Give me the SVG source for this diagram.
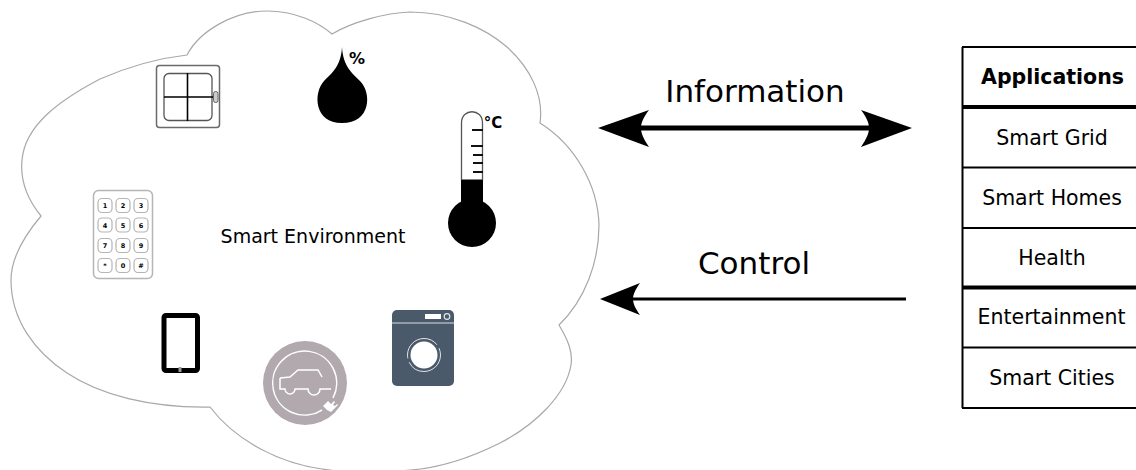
<svg xmlns="http://www.w3.org/2000/svg" width="1136" height="470" viewBox="0 0 1136 470">
<style>
text{font-family:"DejaVu Sans",Verdana,sans-serif;fill:#000;text-anchor:middle}
.lbl{font-size:31px}
.cell{font-size:20.500px}
.key{fill:#fff;stroke:#b5b5b5;stroke-width:1.2}
.kt{font-size:6.5px;font-weight:bold}
.row{stroke:#000;stroke-width:2}
.thick{stroke:#000;stroke-width:4}
.tick{stroke:#111;stroke-width:1.8}
.wl{fill:none;stroke:#fff;stroke-width:1.5}
</style>
<rect width="1136" height="470" fill="#fff"/>
<g id="cloud">
<path d="M187 55C200 30 235 11 267 11C295 11 318 22 332 34C352 22 385 13 410 12C450 12 485 28 507 47C530 68 544 95 540 123C575 145 598 185 599 225C599 262 585 300 559 325C568 340 573 352 571 365C566 395 535 425 500 443C470 458 440 468 410 470C385 473 345 473 330 470C280 465 235 440 210 407C150 408 100 395 67 373C35 352 11 320 11 280C11 258 25 235 41 216C28 200 20 180 22 160C25 125 60 100 100 79C130 66 160 58 187 55Z" fill="#fff" stroke="#a8a8a8" stroke-width="1.2"/>
<text x="313" y="243" style="font-size:19px">Smart Environment</text>
</g>
<g id="window">
<rect x="156.500" y="65.500" width="63" height="62" rx="3" fill="#fff" stroke="#6a6a6a" stroke-width="1.500"/>
<rect x="164" y="73.500" width="48" height="47" rx="5" fill="#fff" stroke="#555" stroke-width="1.300"/>
<path d="M187.500 73V121M164 97H213" stroke="#000" stroke-width="1.600" fill="none"/>
<rect x="213.500" y="91.500" width="4.500" height="11" rx="2" fill="#ccc" stroke="#666"/>
</g>
<g id="humidity">
<path d="M342 47C343 66 352 73 360 81C372 93 371 123 342 123C314 123 313 93 324 81C332 73 341 66 342 47Z" fill="#000"/>
<text x="357" y="64" style="font-size:16px;font-weight:bold">%</text>
</g>
<g id="thermometer">
<path d="M461.500 180V123C461.500 108 482.500 108 482.500 123V180Z" fill="#fff" stroke="#555" stroke-width="1.300"/>
<rect x="461" y="180" width="22" height="30" fill="#000"/>
<circle cx="472" cy="223" r="24" fill="#000"/>
<path class="tick" d="M472 130H483M471 146H483M473 155H483M473 163H483M473 172H483"/>
<text x="493" y="128" style="font-size:15px;font-weight:bold">°C</text>
</g>
<g id="keypad">
<rect x="93.500" y="190.500" width="59" height="88" rx="5" fill="#fff" stroke="#b5b5b5" stroke-width="1.500"/>
<rect class="key" x="98" y="198.500" width="14" height="14" rx="4"/><rect class="key" x="116" y="198.500" width="14" height="14" rx="4"/><rect class="key" x="134" y="198.500" width="14" height="14" rx="4"/>
<rect class="key" x="98" y="218" width="14" height="14" rx="4"/><rect class="key" x="116" y="218" width="14" height="14" rx="4"/><rect class="key" x="134" y="218" width="14" height="14" rx="4"/>
<rect class="key" x="98" y="238.500" width="14" height="14" rx="4"/><rect class="key" x="116" y="238.500" width="14" height="14" rx="4"/><rect class="key" x="134" y="238.500" width="14" height="14" rx="4"/>
<rect class="key" x="98" y="258.500" width="14" height="14" rx="4"/><rect class="key" x="116" y="258.500" width="14" height="14" rx="4"/><rect class="key" x="134" y="258.500" width="14" height="14" rx="4"/>
<text class="kt" x="105" y="208">1</text><text class="kt" x="123" y="208">2</text><text class="kt" x="141" y="208">3</text>
<text class="kt" x="105" y="227.500">4</text><text class="kt" x="123" y="227.500">5</text><text class="kt" x="141" y="227.500">6</text>
<text class="kt" x="105" y="248">7</text><text class="kt" x="123" y="248">8</text><text class="kt" x="141" y="248">9</text>
<text class="kt" x="105" y="268">*</text><text class="kt" x="123" y="268">0</text><text class="kt" x="141" y="268">#</text>
</g>
<g id="tablet">
<rect x="164" y="315.500" width="33.500" height="55" rx="2" fill="#fff" stroke="#000" stroke-width="5"/>
<rect x="178.500" y="367" width="3" height="5" fill="#999"/>
</g>
<g id="ev">
<circle cx="305" cy="383" r="42" fill="#b1a9ad"/>
<path class="wl" d="M322 410A32 32 0 1 1 333 398"/>
<path d="M280 378L290 377L298 370H318L322 377M280 378V389H285A5 5 0 0 0 295 389H308A5 5 0 0 0 320 389H331" fill="#b1a9ad" stroke="#fff" stroke-width="1.500"/>
<path d="M323 406L328 401L331 404L334 401L335 402L333 405L335 406L337 404L338 405L334 409L331 412L327 410Z" fill="#fff"/>
</g>
<g id="washer">
<rect x="392" y="310" width="62" height="76" rx="5" fill="#4a5a6a"/>
<path d="M392 323H454" stroke="#d8dde0" stroke-width="1.200"/>
<rect x="425" y="314" width="16" height="5" fill="#fff"/>
<circle cx="447" cy="316.500" r="2.800" fill="#4a5a6a" stroke="#dfe3e6" stroke-width="1.200"/>
<circle cx="424" cy="355" r="13.500" fill="#fff"/>
<circle cx="424" cy="355" r="16.500" fill="none" stroke="#dfe3e6" stroke-width="1" stroke-dasharray="44 4"/>
</g>
<g id="applications">
<path class="row" d="M962.500 47V408M962 47H1136M962 167.500H1136M962 228H1136M962 347.500H1136M962 408H1136"/>
<path class="thick" d="M962 107H1136M962 287.500H1136"/>
<text class="cell" x="1052.500" y="84" style="font-weight:bold">Applications</text>
<text class="cell" x="1052" y="145">Smart Grid</text>
<text class="cell" x="1052" y="205">Smart Homes</text>
<text class="cell" x="1052" y="265">Health</text>
<text class="cell" x="1051.500" y="324">Entertainment</text>
<text class="cell" x="1052" y="385">Smart Cities</text>
</g>
<g id="connectors">
<path d="M640 128H870" stroke="#000" stroke-width="5" fill="none"/>
<path d="M598 128L649 110C643 118 641 123 641 128C641 133 643 138 649 147Z" fill="#000"/>
<path d="M912 128L861 110C867 118 869 123 869 128C869 133 867 138 861 147Z" fill="#000"/>
<path d="M630 299H906" stroke="#000" stroke-width="3" fill="none"/>
<path d="M600 299L640 283C635 290 633 295 633 299C633 303 635 308 640 315Z" fill="#000"/>
<text class="lbl" x="755" y="102">Information</text>
<text class="lbl" x="754" y="274">Control</text>
</g>
</svg>
